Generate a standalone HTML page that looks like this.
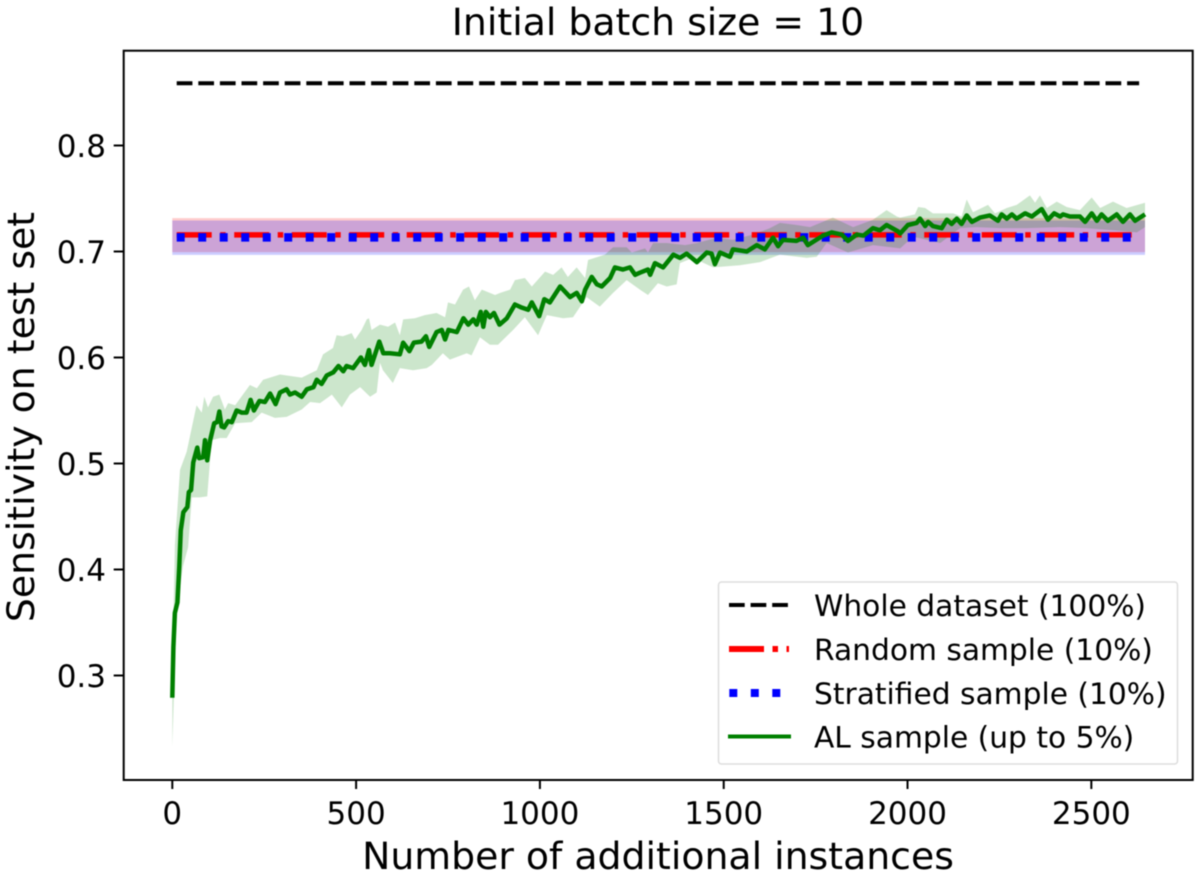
<!DOCTYPE html>
<html>
<head>
<meta charset="utf-8">
<title>Initial batch size = 10</title>
<style>
html,body{margin:0;padding:0;background:#fff;width:1200px;height:876px;overflow:hidden}
svg{display:block;filter:blur(0.6px)}
text{font-family:"DejaVu Sans","Liberation Sans",sans-serif;fill:#000}
</style>
</head>
<body>
<svg id="chart" width="1200" height="876" viewBox="0 0 1200 876" xmlns="http://www.w3.org/2000/svg">
<rect x="0" y="0" width="1200" height="876" fill="#fff"/>
<text x="658" y="35" font-size="37.8" text-anchor="middle">Initial batch size = 10</text>
<text x="658" y="869" font-size="37.8" text-anchor="middle">Number of additional instances</text>
<text x="0" y="0" font-size="37.8" text-anchor="middle" transform="translate(34 417) rotate(-90)">Sensitivity on test set</text>
<g id="plot"></g>
<g id="axes"></g>
<g>
<rect x="718.5" y="582" width="459" height="182" rx="3" fill="#fff" fill-opacity="0.9" stroke="#ddd" stroke-width="1.5"/>
<g>
<line x1="729" y1="605" x2="789" y2="605" stroke="#000" stroke-width="4" stroke-dasharray="15.7 5.9"/>
<text x="814" y="616" font-size="29.7">Whole dataset (100%)</text>
</g>
<g>
<line x1="729" y1="649" x2="789" y2="649" stroke="#f00" stroke-width="6" stroke-dasharray="35 8.5 5.5 8.5"/>
<text x="814" y="660" font-size="29.7">Random sample (10%)</text>
</g>
<g>
<line x1="729.3" y1="693" x2="789" y2="693" stroke="#00f" stroke-width="8" stroke-dasharray="8 13.5"/>
<text x="814" y="704" font-size="29.7">Stratified sample (10%)</text>
</g>
<g>
<line x1="728" y1="736.5" x2="791" y2="736.5" stroke="#008000" stroke-width="4"/>
<text x="814" y="747.5" font-size="29.7">AL sample (up to 5%)</text>
</g>
</g>
</svg>
<script>
const xTicks = [0, 500, 1000, 1500, 2000, 2500];
const yTicks = [0.3, 0.4, 0.5, 0.6, 0.7, 0.8];
const yTickLabels = ["0.3", "0.4", "0.5", "0.6", "0.7", "0.8"];
const xDomainEnd = 2646;
const lineStart = 12;
const lineEnd = 2630;
const wholeValue = 0.8587;
const randomValue = 0.7157;
const randomLow = 0.6994;
const randomHigh = 0.7315;
const stratifiedValue = 0.7133;
const stratifiedLow = 0.6968;
const stratifiedHigh = 0.7292;
const alX = [0,3,7,14,19,23,30,41,45,51,57,68,73,84,89,95,103,114,122,128,134,141,152,162,175,189,202,213,222,237,252,266,281,293,311,320,334,352,366,384,393,406,420,438,452,465,474,492,513,524,535,542,563,574,592,619,628,645,657,678,690,699,719,733,742,751,774,792,805,819,828,839,846,853,864,875,890,910,932,951,968,978,998,1012,1027,1055,1082,1100,1114,1123,1141,1155,1168,1191,1204,1226,1245,1259,1272,1294,1300,1313,1335,1363,1381,1399,1427,1454,1467,1476,1490,1517,1525,1563,1590,1612,1634,1648,1661,1698,1716,1729,1770,1794,1821,1838,1862,1880,1906,1925,1943,1974,1980,2001,2025,2034,2048,2056,2069,2093,2107,2120,2134,2147,2161,2175,2197,2224,2246,2256,2270,2284,2297,2320,2338,2365,2382,2399,2415,2423,2442,2469,2483,2501,2515,2528,2545,2569,2586,2605,2619,2646];
const alMean = [.279,.327,.359,.369,.403,.437,.454,.459,.473,.475,.501,.515,.505,.506,.522,.503,.522,.538,.539,.549,.535,.534,.540,.539,.550,.548,.548,.560,.550,.559,.558,.566,.556,.567,.570,.565,.567,.563,.570,.572,.579,.575,.583,.586,.592,.587,.592,.590,.600,.593,.607,.593,.615,.604,.604,.603,.614,.606,.614,.615,.620,.610,.624,.626,.617,.626,.624,.637,.631,.636,.631,.643,.629,.643,.638,.642,.631,.637,.650,.647,.645,.652,.639,.655,.652,.667,.657,.661,.653,.664,.676,.669,.667,.675,.685,.683,.685,.678,.680,.683,.678,.689,.685,.697,.694,.698,.690,.699,.698,.688,.699,.695,.702,.700,.706,.702,.713,.705,.711,.710,.713,.706,.715,.718,.716,.710,.716,.715,.722,.720,.725,.719,.717,.725,.727,.731,.724,.728,.724,.722,.730,.726,.731,.726,.734,.728,.732,.734,.729,.735,.731,.735,.731,.736,.733,.740,.730,.736,.733,.735,.733,.733,.728,.736,.729,.735,.729,.735,.728,.735,.729,.735];
const alUpperX = [0,7,21,39,66,80,87,97,111,128,143,152,171,211,230,247,293,352,393,410,437,447,464,488,497,515,529,535,542,565,587,606,619,628,660,687,719,742,750,769,791,807,823,842,878,892,919,932,959,978,1014,1036,1059,1076,1100,1123,1131,1177,1199,1236,1250,1286,1294,1308,1345,1395,1427,1481,1525,1580,1626,1653,1698,1735,1797,1852,1906,1943,1971,1980,2020,2029,2048,2069,2097,2124,2147,2161,2178,2219,2238,2270,2297,2333,2347,2360,2379,2406,2433,2469,2501,2524,2559,2596,2646];
const alUpper = [.300,.423,.494,.511,.555,.548,.563,.553,.563,.565,.551,.557,.555,.574,.571,.579,.584,.581,.588,.603,.609,.621,.620,.623,.617,.626,.636,.637,.626,.631,.629,.633,.621,.636,.637,.640,.642,.638,.652,.650,.664,.667,.654,.664,.659,.661,.664,.673,.675,.667,.681,.678,.685,.676,.685,.675,.692,.697,.704,.704,.699,.703,.699,.708,.708,.706,.708,.713,.711,.716,.722,.727,.725,.723,.732,.723,.730,.739,.733,.732,.735,.742,.741,.736,.736,.736,.733,.749,.737,.744,.736,.741,.744,.753,.746,.753,.741,.747,.742,.739,.751,.741,.747,.741,.746];
const alLowerX = [0,12,29,43,53,75,95,107,130,148,171,216,243,279,311,352,375,402,434,461,483,511,538,556,565,573,600,619,655,692,706,736,755,801,814,837,864,886,927,959,995,1019,1063,1090,1127,1163,1199,1236,1272,1294,1321,1345,1372,1381,1416,1471,1544,1599,1653,1726,1753,1780,1838,1906,1980,2015,2089,2143,2188,2252,2324,2415,2487,2559,2624,2646];
const alLower = [.233,.359,.403,.421,.468,.468,.469,.522,.524,.524,.538,.539,.548,.543,.544,.551,.558,.557,.565,.553,.565,.572,.563,.567,.595,.588,.576,.590,.588,.590,.593,.604,.598,.604,.602,.619,.612,.612,.626,.638,.621,.640,.637,.638,.657,.648,.661,.673,.664,.659,.670,.667,.669,.689,.694,.685,.687,.690,.697,.694,.695,.708,.699,.706,.703,.714,.708,.722,.723,.722,.722,.723,.722,.720,.718,.723];

const NS = "http://www.w3.org/2000/svg";
const plot = document.getElementById("plot");
const axes = document.getElementById("axes");
const xScale = v => 172.3 + v * (972.7 / xDomainEnd);
const yScale = v => 675.5 - (v - 0.3) * 1060;

function make(parent, tag, attrs) {
  const el = document.createElementNS(NS, tag);
  for (const k in attrs) el.setAttribute(k, attrs[k]);
  parent.appendChild(el);
  return el;
}

const randomBand = make(plot, "rect", {x: xScale(0), y: yScale(randomHigh), width: xScale(xDomainEnd) - xScale(0), height: yScale(randomLow) - yScale(randomHigh), fill: "#f00", "fill-opacity": 0.2});



const stratifiedBand = make(plot, "rect", {x: xScale(0), y: yScale(stratifiedHigh), width: xScale(xDomainEnd) - xScale(0), height: yScale(stratifiedLow) - yScale(stratifiedHigh), fill: "#00f", "fill-opacity": 0.2});



const bandPts = [];
alUpperX.forEach((x, i) => bandPts.push(xScale(x).toFixed(2) + "," + yScale(alUpper[i]).toFixed(2)));
for (let i = alLowerX.length - 1; i >= 0; i--) bandPts.push(xScale(alLowerX[i]).toFixed(2) + "," + yScale(alLower[i]).toFixed(2));
const alBand = make(plot, "polygon", {points: bandPts.join(" "), fill: "#008000", "fill-opacity": 0.2});



const wholeLine = make(plot, "line", {x1: xScale(lineStart), x2: xScale(lineEnd), y1: yScale(wholeValue), y2: yScale(wholeValue), stroke: "#000", "stroke-width": 4, "stroke-dasharray": "15.7 5.9"});



const randomLine = make(plot, "line", {x1: xScale(lineStart), x2: xScale(lineEnd), y1: yScale(randomValue), y2: yScale(randomValue), stroke: "#f00", "stroke-width": 5.5, "stroke-dasharray": "35 8.5 5.5 8.5"});



const stratifiedLine = make(plot, "line", {x1: xScale(lineStart), x2: xScale(lineEnd), y1: yScale(stratifiedValue), y2: yScale(stratifiedValue), stroke: "#00f", "stroke-width": 8.5, "stroke-dasharray": "8 13.5"});



const alLine = make(plot, "polyline", {points: alX.map((x, i) => xScale(x).toFixed(2) + "," + yScale(alMean[i]).toFixed(2)).join(" "), fill: "none", stroke: "#008000", "stroke-width": 4.5, "stroke-linejoin": "round"});



const frame = make(axes, "rect", {x: 123.7, y: 50.7, width: 1069, height: 729.3, fill: "none", stroke: "#000", "stroke-width": 2});



xTicks.forEach(t => {
  const tick = make(axes, "line", {x1: xScale(t), x2: xScale(t), y1: 780, y2: 789, stroke: "#000", "stroke-width": 2});
  
  
  const label = make(axes, "text", {x: xScale(t), y: 824, "font-size": 31, "text-anchor": "middle"});
  
  
  label.textContent = String(t);
});

yTicks.forEach((t, i) => {
  const tick = make(axes, "line", {x1: 113.7, x2: 123.7, y1: yScale(t), y2: yScale(t), stroke: "#000", "stroke-width": 2});
  
  
  const label = make(axes, "text", {x: 106, y: yScale(t) + 11.5, "font-size": 31, "text-anchor": "end"});
  
  
  label.textContent = yTickLabels[i];
});
</script>
</body>
</html>
